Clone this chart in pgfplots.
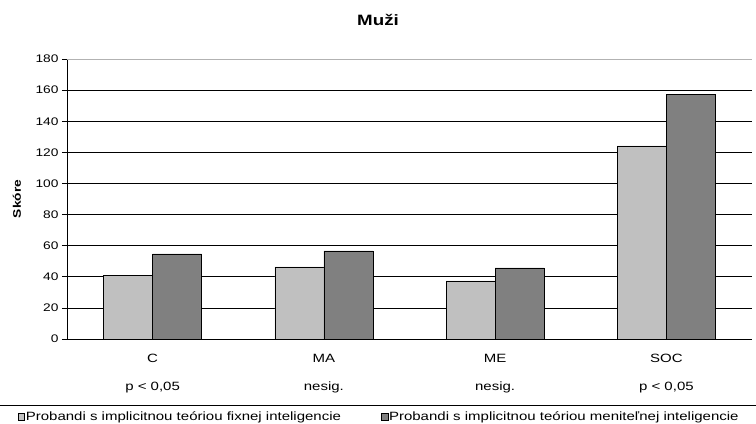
\documentclass[border=0pt]{standalone}
\usepackage{pgfplots}
\pgfplotsset{compat=1.18}
\usepackage{fontspec}
\setmainfont{Liberation Sans}[FakeStretch=1.25]
\definecolor{barlight}{HTML}{C0C0C0}
\definecolor{bardark}{HTML}{808080}
\begin{document}
\begin{tikzpicture}[font=\fontsize{12}{14}\selectfont]
\begin{axis}[
  scale only axis,
  width=685pt, height=280pt,
  ybar=0pt, bar width=49pt,
  xmin=-0.5, xmax=3.5,
  ymin=0, ymax=180,
  ytick={0,20,...,180},
  ymajorgrids,
  grid style={black, line width=0.6pt},
  axis x line*=bottom, axis y line*=left,
  axis line style={-, black, line width=0.7pt},
  tick align=outside,
  major tick length=5pt,
  ytick style={black, line width=0.6pt},
  yticklabel style={font=\fontsize{11}{13}\selectfont},
  xtick={0,1,2,3},
  xticklabels={{C\\[14pt]p < 0,05},{MA\\[14pt]nesig.},{ME\\[14pt]nesig.},{SOC\\[14pt]p < 0,05}},
  xticklabel style={align=center, yshift=-7pt},
  xtick style={draw=none},
  extra x ticks={-0.5,0.5,1.5,2.5,3.5},
  extra x tick labels={},
  extra x tick style={major tick length=54pt, grid=none, tick style={draw=black, line width=0.6pt}},
  ylabel={\bfseries Skóre},
  ylabel style={at={(axis description cs:-0.073,0.5)}, anchor=center, font=\fontsize{11}{13}\selectfont},
  /pgf/number format/assume math mode=true,
  legend columns=2,
  legend style={
    at={(axis description cs:-0.072,-0.248)}, anchor=north west,
    draw=none, fill=none, inner xsep=0pt, inner ysep=1pt,
    nodes={inner xsep=1pt},
    /tikz/every even column/.append style={column sep=39pt},
    font=\fontsize{12}{14}\selectfont,
  },
]
\addplot[fill=barlight, draw=black, line width=0.6pt,
  legend image code/.code={\draw[fill=barlight, draw=black, line width=0.5pt] (0pt,-3pt) rectangle (6.5pt,3.5pt);}]
  coordinates {(0,40.7) (1,46.3) (2,37.3) (3,124.1)};
\addplot[fill=bardark, draw=black, line width=0.6pt,
  legend image code/.code={\draw[fill=bardark, draw=black, line width=0.5pt] (0pt,-3pt) rectangle (6.5pt,3.5pt);}]
  coordinates {(0,54.7) (1,56.6) (2,45.7) (3,157.3)};
\legend{Probandi s implicitnou teóriou fixnej inteligencie, Probandi s implicitnou teóriou meniteľnej inteligencie}
\draw[gray!60, line width=0.6pt] (rel axis cs:0,1) -- (rel axis cs:1,1);
\end{axis}
% title and the rule above the legend
\node[font=\fontsize{15}{17}\selectfont\bfseries] at ([xshift=311pt,yshift=39pt]current axis.north west) {Muži};
\draw[black, line width=0.7pt] ([xshift=-67pt,yshift=-66pt]current axis.south west) -- ([xshift=4pt,yshift=-66pt]current axis.south east);
\pgfresetboundingbox
\path[use as bounding box] ([xshift=-67pt,yshift=-85pt]current axis.south west) rectangle ([xshift=4pt,yshift=59pt]current axis.north east);
\end{tikzpicture}
\end{document}
